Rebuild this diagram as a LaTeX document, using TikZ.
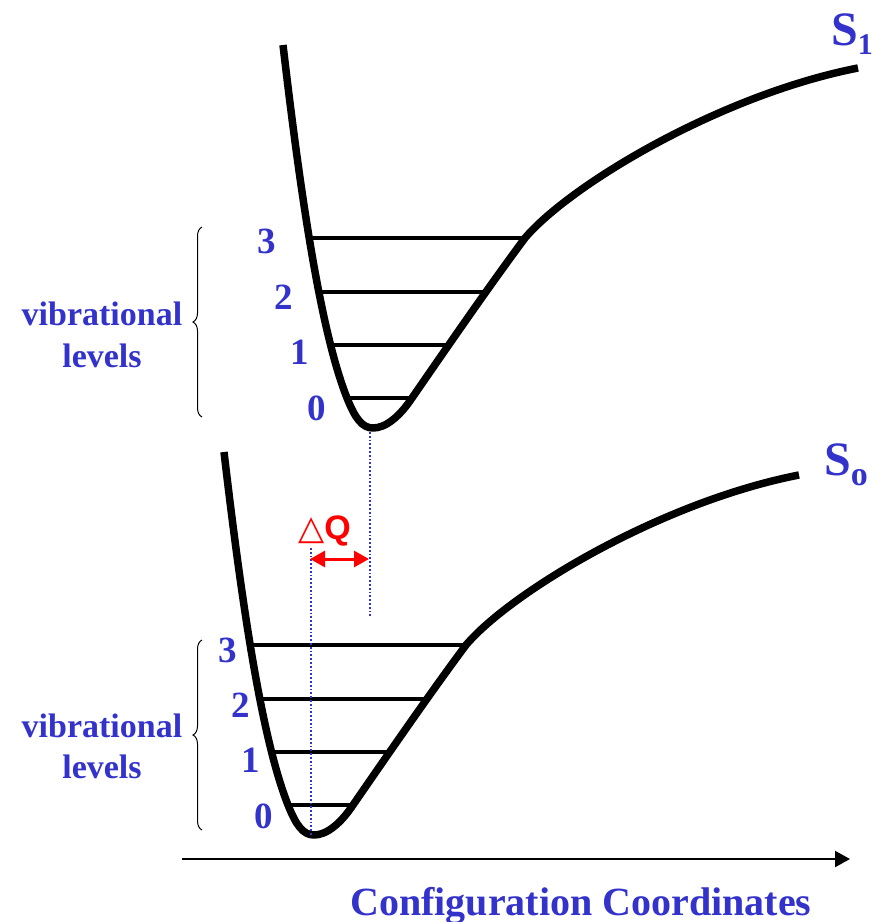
\documentclass[tikz,border=0pt]{standalone}
\usepackage{fontspec}
\setmainfont{Liberation Serif}
\newfontfamily\sansf{Liberation Sans}
\newfontfamily\dejavu{DejaVu Sans}
\usetikzlibrary{arrows.meta,decorations.pathreplacing}
\definecolor{lblue}{RGB}{51,51,204}
\definecolor{lred}{RGB}{255,0,0}
\tikzset{
  pes/.style={line width=7.5pt, line cap=butt, line join=round},
  lev/.style={line width=4pt},
  num/.style={text=lblue, font=\bfseries\fontsize{37}{37}\selectfont, anchor=base, inner sep=0pt},
  vib/.style={text=lblue, font=\bfseries\fontsize{34}{34}\selectfont, anchor=base, inner sep=0pt},
  lbl/.style={text=lblue, font=\bfseries\fontsize{48}{48}\selectfont, anchor=base west, inner sep=0pt},
  dotl/.style={lblue, line width=1.8pt, dotted},
  brc/.style={line width=1pt, decorate, decoration={brace, amplitude=9pt}},
}
\newcommand{\pescurve}{(283,45) .. controls (300,190) and (320,330) .. (347,398)
  .. controls (355,418) and (362,428) .. (373,428)
  .. controls (386,428) and (400,416) .. (412,398)
  .. controls (450,343) and (490,285) .. (525,238)
  .. controls (570,185) and (720,95) .. (858,68)}
\begin{document}
\begin{tikzpicture}[x=1pt,y=-1pt]
\useasboundingbox (0,0) rectangle (872,922);
% upper surface S1
\draw[pes] \pescurve;
\coordinate (u3l) at (308,238); \coordinate (u3r) at (525,238);
\coordinate (u2l) at (317,292); \coordinate (u2r) at (483,292);
\coordinate (u1l) at (330,345); \coordinate (u1r) at (448,345);
\coordinate (u0l) at (347,398); \coordinate (u0r) at (412,398);
\draw[lev] (u3l) -- (u3r);
\draw[lev] (u2l) -- (u2r);
\draw[lev] (u1l) -- (u1r);
\draw[lev] (u0l) -- (u0r);
% lower surface S0
\begin{scope}[shift={(-59,407)}]
\draw[pes] \pescurve;
\coordinate (l3l) at (308,238); \coordinate (l3r) at (525,238);
\coordinate (l2l) at (317,292); \coordinate (l2r) at (483,292);
\coordinate (l1l) at (330,345); \coordinate (l1r) at (448,345);
\coordinate (l0l) at (347,398); \coordinate (l0r) at (412,398);
\draw[lev] (l3l) -- (l3r);
\draw[lev] (l2l) -- (l2r);
\draw[lev] (l1l) -- (l1r);
\draw[lev] (l0l) -- (l0r);
\end{scope}
% labels S1, So
\node[lbl] (s1) at (831,45) {S\raisebox{-9pt}{\fontsize{30}{30}\selectfont 1}};
\node[lbl] (s0) at (824,475) {S\raisebox{-10pt}{\fontsize{34}{34}\selectfont o}};
% level numbers
\node[num] (n3u) at (267,253) {3};
\node[num] (n2u) at (284,309) {2};
\node[num] (n1u) at (300,364) {1};
\node[num] (n0u) at (317,420) {0};
\node[num] (n3l) at (228,662) {3};
\node[num] (n2l) at (241,717) {2};
\node[num] (n1l) at (251,772) {1};
\node[num] (n0l) at (264,828) {0};
% braces and texts
\coordinate (bu1) at (202,417); \coordinate (bu2) at (202,227);
\draw[brc] (bu1) -- (bu2);
\coordinate (bl1) at (202,830); \coordinate (bl2) at (202,640);
\draw[brc] (bl1) -- (bl2);
\node[vib] (vu1) at (102,325) {vibrational};
\node[vib] (vu2) at (102,367) {levels};
\node[vib] (vl1) at (102,737) {vibrational};
\node[vib] (vl2) at (102,778) {levels};
% dotted lines
\coordinate (du1) at (370,432); \coordinate (du2) at (370,617);
\draw[dotl] (du1) -- (du2);
\coordinate (dl1) at (311,548); \coordinate (dl2) at (311,835);
\draw[dotl] (dl1) -- (dl2);
% Delta Q
\coordinate (qa) at (310,559); \coordinate (qb) at (369,559);
\draw[lred, line width=3pt, {Triangle[length=15pt,width=16pt]}-{Triangle[length=15pt,width=16pt]}] (qa) -- (qb);
\node[text=lred, anchor=base west, inner sep=0pt, font=\fontsize{34}{34}\selectfont] (dq) at (298,539) {{\dejavu △}{\sansf\bfseries Q}};
% axis
\coordinate (ax1) at (182,859); \coordinate (ax2) at (850,859);
\draw[line width=2.2pt, -{Triangle[length=15pt,width=16pt]}] (ax1) -- (ax2);
\node[text=lblue, font=\bfseries\fontsize{40}{40}\selectfont, anchor=base, inner sep=0pt] (cc) at (581,915) {Configuration Coordinates};
\end{tikzpicture}
\end{document}
